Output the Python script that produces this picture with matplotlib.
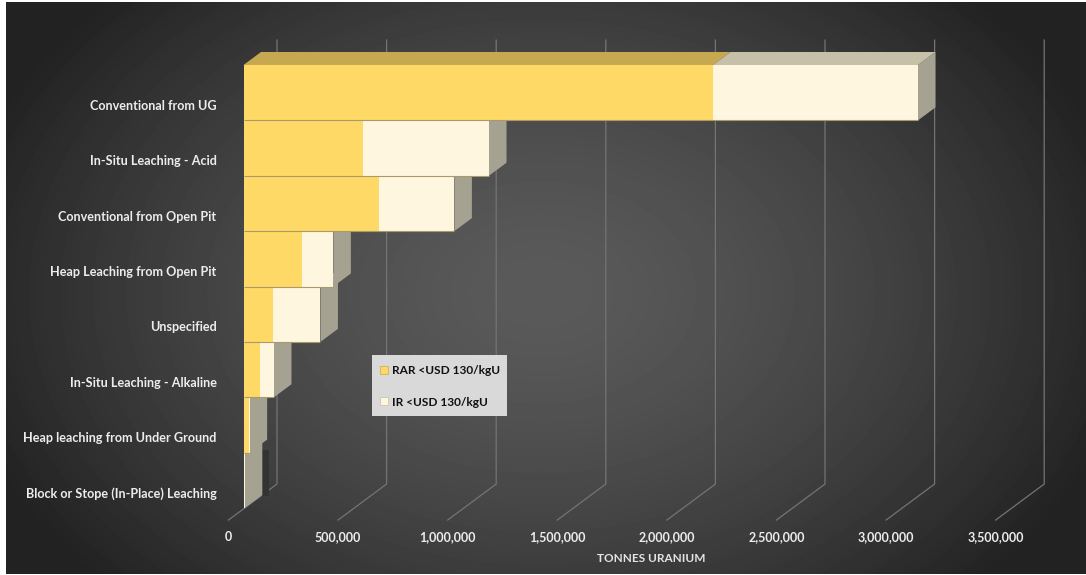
import numpy as np
import matplotlib
matplotlib.use('Agg')
import matplotlib.pyplot as plt
from matplotlib.patches import Patch, Rectangle

plt.rcParams['font.family'] = ['Lato', 'DejaVu Sans']
plt.rcParams['font.weight'] = 'bold'

categories = ['Conventional from UG', 'In-Situ Leaching - Acid', 'Conventional from Open Pit',
              'Heap Leaching from Open Pit', 'Unspecified', 'In-Situ Leaching - Alkaline',
              'Heap leaching from Under Ground', 'Block or Stope (In-Place) Leaching']
rar = [2142000, 544000, 620000, 268000, 135000, 75000, 26000, 2000]
ir = [935000, 576000, 342000, 142000, 216000, 64000, 2000, 4000]
ticks = [0, 500000, 1000000, 1500000, 2000000, 2500000, 3000000, 3500000]

W, H = 1086, 575
PX = 500000 / 109.6  # tonnes per pixel
ROW = 55.375         # pixels per category

fig = plt.figure(figsize=(W / 100, H / 100), dpi=100, facecolor='white')

#background
bg = fig.add_axes([6 / W, 1 / H, 1080 / W, 572 / H])
yy, xx = np.mgrid[0:572, 0:1080]
r = np.hypot((xx - 535) / 600, (yy - 290) / 430)
shade = 0x5a - (0x5a - 0x22) * np.clip(r, 0, 1) ** 1.5
bg.imshow(shade, cmap='gray', vmin=0, vmax=255, aspect='auto', interpolation='bilinear')
bg.axis('off')

ax = fig.add_axes([243.5 / W, (H - 508) / H, 767.2 / W, 443 / H])
ax.patch.set_alpha(0)
ax.set_xlim(0, 3500000)
ax.set_ylim(8, 0)
ax.axis('off')

#depth of the bars
dx = 17.5 * PX
dy = 13 / ROW

#gridlines, floor then back wall
back_x = 33.5 * PX
front_x = -15 * PX
for t in ticks:
    ax.plot([t + front_x, t + back_x, t + back_x], [8.217, 7.567, -0.45],
            color='#747474', lw=0.9, clip_on=False, zorder=1)
    ax.text(t + front_x, 8.52, f'{t:,}', color='#ececec', fontsize=9,
            ha='center', va='center', clip_on=False)

#dark shadow next to the lowest bar
last = rar[7] + ir[7]
ax.fill([last + dx, last + dx + 7 * PX, last + dx + 7 * PX, last + dx],
        [6.95, 6.95, 7.78, 7.78], color='#333333', lw=0, zorder=1.5)

#bars from the bottom up so the upper ones cover the lower tops
for i in range(7, -1, -1):
    z = 2 + (7 - i) * 0.1
    top, bot = i, i + 1
    total = rar[i] + ir[i]
    ax.fill([total, total, total + dx, total + dx], [top, bot, bot - dy, top - dy],
            color='#a6a292', lw=0, zorder=z, clip_on=False)
    ax.fill([0, rar[i], rar[i] + dx, dx], [top, top, top - dy, top - dy],
            color='#c6a850', lw=0, zorder=z, clip_on=False)
    ax.fill([rar[i], total, total + dx, rar[i] + dx], [top, top, top - dy, top - dy],
            color='#c6c0a8', lw=0, zorder=z, clip_on=False)
    ax.barh(i + 0.5, rar[i], height=1, color='#ffd966', edgecolor='none', zorder=z + 0.01)
    ax.barh(i + 0.5, ir[i], left=rar[i], height=1, color='#fff6e0', edgecolor='none', zorder=z + 0.01)
    ax.plot([0, total], [bot, bot], color='#a89a6a', lw=0.8, zorder=z + 0.02,
            solid_capstyle='butt')
    ax.text(-27 * PX, i + 0.736, categories[i], color='#ececec', fontsize=9.07,
            ha='right', va='center', clip_on=False)

fig.text(651 / W, 1 - 559 / H, 'TONNES URANIUM', color='#e4e4e4', fontsize=8.5,
         ha='center', va='center')

#legend box is a separate patch so the padding can differ per side
fig.add_artist(Rectangle((372 / W, 1 - 416 / H), 134.5 / W, 61 / H, transform=fig.transFigure,
                         facecolor='#d9d9d9', edgecolor='none', zorder=5))
handles = [Patch(facecolor='#ffd966', edgecolor='#c9a84a', lw=0.5, label='RAR <USD 130/kgU'),
           Patch(facecolor='#fff6e0', edgecolor='#c6c0a8', lw=0.5, label='IR <USD 130/kgU')]
leg = fig.legend(handles=handles, loc='lower left',
                 bbox_to_anchor=(380 / W, 1 - 407.5 / H), bbox_transform=fig.transFigure,
                 frameon=False, fontsize=8.55, labelcolor='#111111', borderaxespad=0,
                 handlelength=0.65, handleheight=0.65, handletextpad=0.4,
                 labelspacing=1.74, borderpad=0)
leg.set_zorder(10)

fig.savefig('out.png', dpi=100)
plt.close(fig)
